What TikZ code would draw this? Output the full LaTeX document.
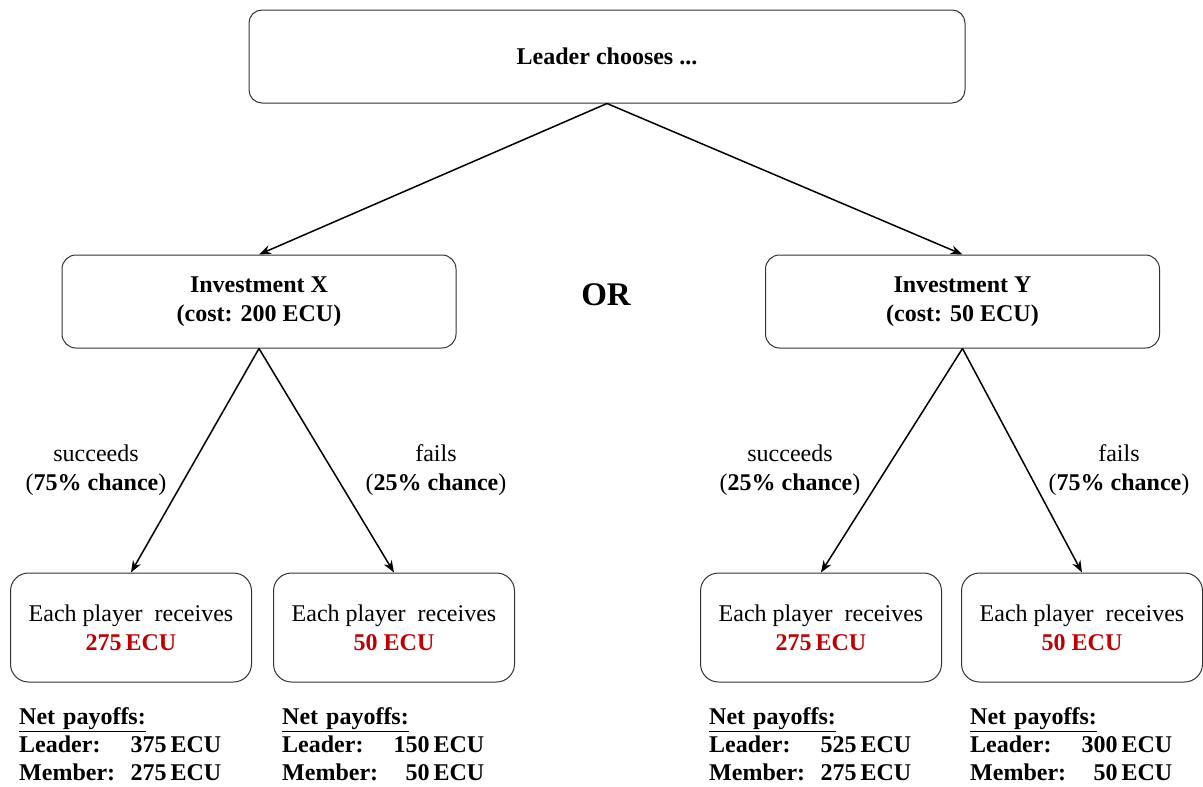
\documentclass[tikz,border=0pt]{standalone}
\usepackage{fontspec}
\setmainfont{Liberation Serif}
\usepackage{tikz}
\usetikzlibrary{arrows.meta, positioning}
\definecolor{payred}{RGB}{192,0,0}
\newcommand{\treefont}{\fontsize{24}{29}\selectfont}
\tikzset{
    % boxes of the decision tree, sizes
    topbox/.style = {rectangle, rounded corners=13pt, draw=black!80, line width=1pt, minimum width=716pt, minimum height=93pt, align=center, font=\treefont\bfseries},
    investbox/.style = {rectangle, rounded corners=14pt, draw=black!80, line width=1pt, minimum width=394pt, minimum height=93pt, align=center, font=\treefont\bfseries},
    outcomebox/.style = {rectangle, rounded corners=18pt, draw=black!80, line width=1pt, minimum width=241pt, minimum height=109pt, align=center, font=\treefont},
    chance/.style = {align=center, font=\treefont},
    payoff/.style = {text width=202pt, align=left, inner sep=0pt, font=\fontsize{24}{28}\selectfont\bfseries},
    arrow/.style = {line width=1.5pt, -{Stealth[length=12pt, width=9pt]}}
}

\begin{document}
\begin{tikzpicture}[x=1pt, y=-1pt]
\useasboundingbox (0,0) rectangle (1203,787);

\node[topbox] (leader) at (607,56.5) {Leader chooses ...};
\node[investbox] (invx) at (259,301.5) {Investment X\\(cost: 200 ECU)};
\node[investbox] (invy) at (962.5,301.5) {Investment Y\\(cost: 50 ECU)};
\node[font=\fontsize{33}{40}\selectfont\bfseries] (or) at (606,295) {OR};

\node[outcomebox] (xsucc) at (131,627.5) {Each player~ receives\\\textcolor{payred}{\textbf{275\,ECU}}};
\node[outcomebox] (xfail) at (394,627.5) {Each player~ receives\\\textcolor{payred}{\textbf{50 ECU}}};
\node[outcomebox] (ysucc) at (821,627.5) {Each player~ receives\\\textcolor{payred}{\textbf{275\,ECU}}};
\node[outcomebox] (yfail) at (1082,627.5) {Each player~ receives\\\textcolor{payred}{\textbf{50 ECU}}};

\node[chance] (xsucclab) at (96,470) {succeeds\\(\textbf{75\% chance})};
\node[chance] (xfaillab) at (436,470) {fails\\(\textbf{25\% chance})};
\node[chance] (ysucclab) at (790,470) {succeeds\\(\textbf{25\% chance})};
\node[chance] (yfaillab) at (1119,470) {fails\\(\textbf{75\% chance})};

\node[payoff, below right=25pt and 9pt of xsucc.south west] (xsuccpay) {\underline{Net payoffs:}\\Leader:\hfill 375\,ECU\\Member:\hfill 275\,ECU};
\node[payoff, below right=25pt and 9pt of xfail.south west] (xfailpay) {\underline{Net payoffs:}\\Leader:\hfill 150\,ECU\\Member:\hfill 50\,ECU};
\node[payoff, below right=25pt and 9pt of ysucc.south west] (ysuccpay) {\underline{Net payoffs:}\\Leader:\hfill 525\,ECU\\Member:\hfill 275\,ECU};
\node[payoff, below right=25pt and 9pt of yfail.south west] (yfailpay) {\underline{Net payoffs:}\\Leader:\hfill 300\,ECU\\Member:\hfill 50\,ECU};

\draw[arrow] (leader.south) -- (invx.north);
\draw[arrow] (leader.south) -- (invy.north);
\draw[arrow] (invx.south) -- (xsucc.north);
\draw[arrow] (invx.south) -- (xfail.north);
\draw[arrow] (invy.south) -- (ysucc.north);
\draw[arrow] (invy.south) -- (yfail.north);

\end{tikzpicture}
\end{document}
